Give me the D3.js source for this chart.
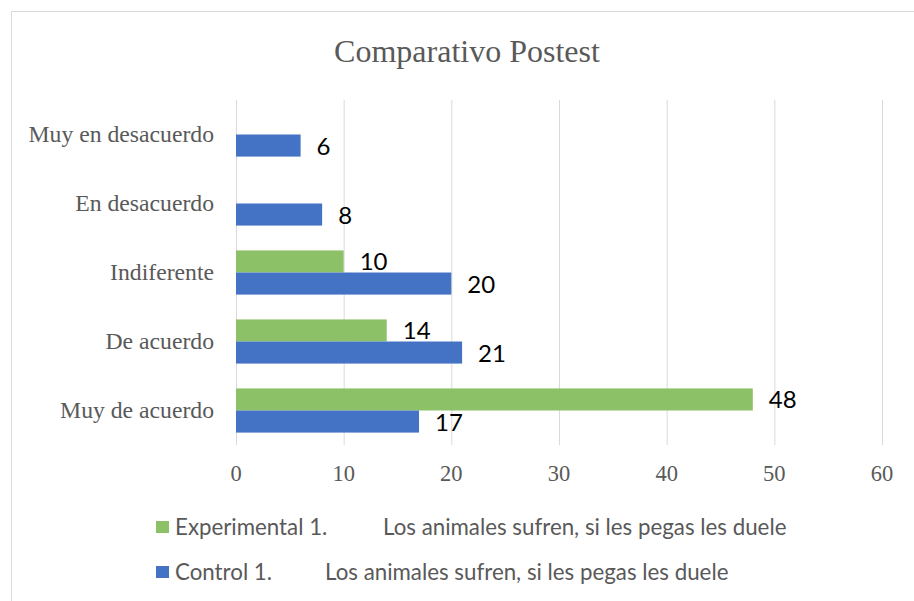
<!DOCTYPE html>
<head>
  <meta charset="utf-8">
  <title>Comparativo Postest</title>
  <script src="https://cdn.jsdelivr.net/npm/d3@7"></script>
  <style>
  body { margin: 0; background: #fff; }
  .grid line { stroke: #d9d9d9; stroke-width: 1px; }
  .serif { font-family: "Liberation Serif", "Times New Roman", serif; fill: #595959; }
  .sans { font-family: Lato, "Open Sans", sans-serif; }
  </style>
</head>
<body>
<script type="text/javascript">
  var WIDTH = 914;
  var HEIGHT = 601;

  // data
  var categories = ["Muy en desacuerdo", "En desacuerdo", "Indiferente", "De acuerdo", "Muy de acuerdo"];
  var experimental = [0, 0, 10, 14, 48];
  var control = [6, 8, 20, 21, 17];
  var seriesNames = ["Experimental 1.", "Control 1."];
  var seriesDesc = ["Los animales sufren, si les pegas les duele", "Los animales sufren, si les pegas les duele"];
  var xTicks = [0, 10, 20, 30, 40, 50, 60];

  var svg = d3.select("body").append("svg")
              .attr("width", WIDTH)
              .attr("height", HEIGHT);

  // frame
  svg.append("rect")
    .attr("x", 11.5).attr("y", 11.5)
    .attr("width", WIDTH + 20).attr("height", HEIGHT + 20)
    .attr("fill", "none").attr("stroke", "#d9d9d9");

  svg.append("text")
    .attr("class", "serif")
    .attr("x", 467).attr("y", 62)
    .attr("text-anchor", "middle")
    .attr("font-size", 32)
    .text("Comparativo Postest");

  var x = d3.scaleLinear().domain([0, 60]).range([236, 882]);
  var y = d3.scaleBand().domain(categories).range([100, 445]).paddingInner(0.36).paddingOuter(0.18);
  var sub = d3.scaleBand().domain(["exp", "ctl"]).range([0, y.bandwidth()]);

  // gridlines
  svg.append("g").attr("class", "grid")
    .selectAll("line")
    .data(xTicks)
    .enter().append("line")
    .attr("x1", function(d){ return x(d) + 0.5; })
    .attr("x2", function(d){ return x(d) + 0.5; })
    .attr("y1", 100).attr("y2", 445);

  // tick labels
  svg.append("g")
    .selectAll("text")
    .data(xTicks)
    .enter().append("text")
    .attr("class", "serif")
    .attr("x", function(d){ return x(d); })
    .attr("y", 481)
    .attr("text-anchor", "middle")
    .attr("font-size", 22.5)
    .text(function(d){ return d; });

  // category labels
  svg.append("g")
    .selectAll("text")
    .data(categories)
    .enter().append("text")
    .attr("class", "serif")
    .attr("x", 214)
    .attr("y", function(d){ return y(d) + y.bandwidth() / 2 + 7; })
    .attr("text-anchor", "end")
    .attr("font-size", 23.7)
    .text(function(d){ return d; });

  var rows = categories.map(function(c, i){
    return [
      { cat: c, key: "exp", value: experimental[i], color: "#8cc168" },
      { cat: c, key: "ctl", value: control[i], color: "#4472c4" }
    ];
  });
  var bars = d3.merge(rows).filter(function(d){ return d.value > 0; });

  svg.append("g")
    .selectAll("rect")
    .data(bars)
    .enter().append("rect")
    .attr("x", x(0))
    .attr("y", function(d){ return y(d.cat) + sub(d.key); })
    .attr("width", function(d){ return x(d.value) - x(0); })
    .attr("height", sub.bandwidth())
    .attr("fill", function(d){ return d.color; });

  // value labels
  svg.append("g")
    .selectAll("text")
    .data(bars)
    .enter().append("text")
    .attr("class", "sans")
    .attr("x", function(d){ return x(d.value) + 16; })
    .attr("y", function(d){ return y(d.cat) + sub(d.key) + sub.bandwidth() / 2 + 9; })
    .attr("font-size", 24)
    .attr("fill", "#000")
    .text(function(d){ return d.value; });

  // legend
  var legendColors = ["#8cc168", "#4472c4"];
  var legendY = [527, 572];
  var descX = [383, 325];
  var legend = svg.append("g")
    .selectAll("g")
    .data(seriesNames)
    .enter().append("g");

  legend.append("rect")
    .attr("x", 156)
    .attr("y", function(d, i){ return legendY[i] - 6; })
    .attr("width", 13).attr("height", 12)
    .attr("fill", function(d, i){ return legendColors[i]; });

  legend.append("text")
    .attr("class", "sans")
    .attr("x", 175)
    .attr("y", function(d, i){ return legendY[i] + 7.5; })
    .attr("font-size", 22.3)
    .attr("fill", "#595959")
    .text(function(d){ return d; });

  legend.append("text")
    .attr("class", "sans")
    .attr("x", function(d, i){ return descX[i]; })
    .attr("y", function(d, i){ return legendY[i] + 7.5; })
    .attr("font-size", 22.3)
    .attr("fill", "#595959")
    .text(function(d, i){ return seriesDesc[i]; });
</script>
</body>
